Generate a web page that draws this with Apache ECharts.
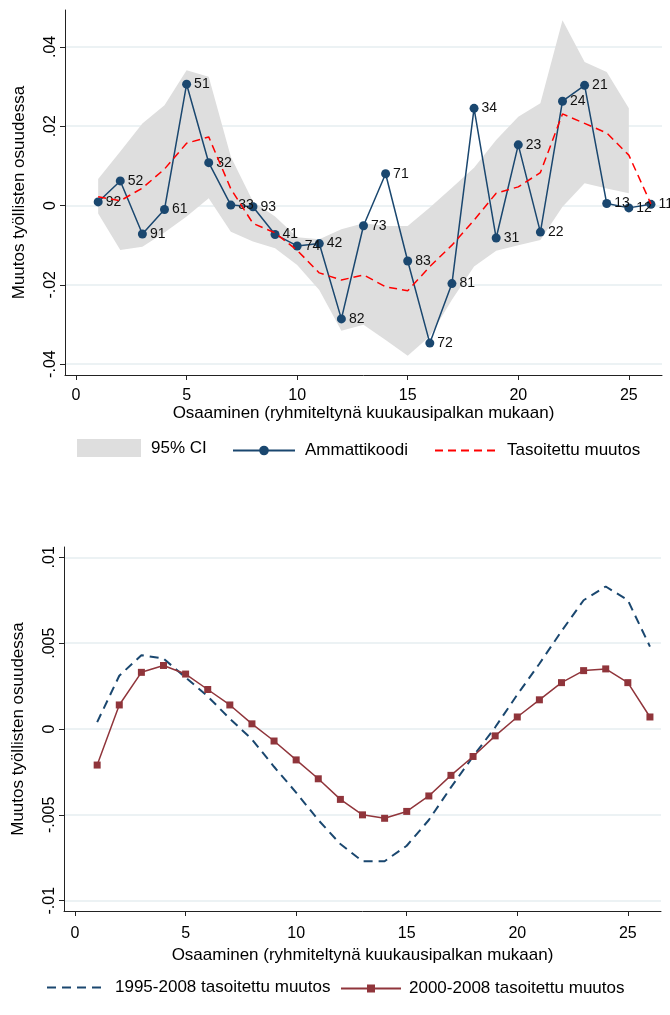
<!DOCTYPE html>
<html>
<head>
<meta charset="utf-8">
<script src="https://cdn.jsdelivr.net/npm/echarts@6/dist/echarts.min.js"></script>
<style>
html,body{margin:0;padding:0;background:#fff;}
#c{width:670px;height:1015px;}
</style>
</head>
<body>
<div id="c"></div>
<script>
// ---- data ----
const osaaminen = [1,2,3,4,5,6,7,8,9,10,11,12,13,14,15,16,17,18,19,20,21,22,23,24,25,26];
const ammattikoodit = ['92','52','91','61','51','32','33','93','41','74','42','82','73','71','83','72','81','34','31','23','22','24','21','13','12','11'];
const ammattiMuutos = [0.0009, 0.0062, -0.0072, -0.0010, 0.0306, 0.0108, 0.0001, -0.0003, -0.0073, -0.0102, -0.0096, -0.0286, -0.0051, 0.0080, -0.0140, -0.0347, -0.0197, 0.0245, -0.0082, 0.0153, -0.0067, 0.0263, 0.0303, 0.0005, -0.0006, 0.0003];
const tasoitettuMuutos = [0.0022, 0.0012, 0.0044, 0.0092, 0.0157, 0.0173, 0.0042, -0.0045, -0.0069, -0.0113, -0.0170, -0.0188, -0.0175, -0.0205, -0.0215, -0.0154, -0.0100, -0.0037, 0.0031, 0.0047, 0.0083, 0.0231, 0.0207, 0.0183, 0.0127, 0.0004];
const ciX = [1,2,3,4,5,6,7,8,9,10,11,12,13,14,15,16,17,18,19,20,21,22,23,24,25];
const ciLower = [-0.0020, -0.0112, -0.0104, -0.0068, -0.0028, 0.0018, -0.0066, -0.0091, -0.0108, -0.0150, -0.0213, -0.0316, -0.0301, -0.0339, -0.0379, -0.0330, -0.0238, -0.0154, -0.0114, -0.0100, -0.0087, -0.0003, 0.0056, 0.0043, 0.0031];
const ciUpper = [0.0067, 0.0136, 0.0207, 0.0253, 0.0341, 0.0325, 0.0123, 0.0010, -0.0028, -0.0080, -0.0085, -0.0060, -0.0045, -0.0052, -0.0052, -0.0005, 0.0045, 0.0095, 0.0165, 0.0224, 0.0258, 0.0467, 0.0362, 0.0337, 0.0245];
const muutos1995 = [0.0004, 0.0031, 0.0043, 0.0041, 0.0030, 0.0019, 0.0006, -0.0006, -0.0022, -0.0037, -0.0053, -0.0067, -0.0077, -0.0077, -0.0068, -0.0053, -0.0034, -0.0016, 0.0001, 0.0020, 0.0038, 0.0057, 0.0075, 0.0083, 0.0075, 0.0048];
const muutos2000 = [-0.0021, 0.0014, 0.0033, 0.0037, 0.0032, 0.0023, 0.0014, 0.0003, -0.0007, -0.0018, -0.0029, -0.0041, -0.0050, -0.0052, -0.0048, -0.0039, -0.0027, -0.0016, -0.0004, 0.0007, 0.0017, 0.0027, 0.0034, 0.0035, 0.0027, 0.0007];
const xTicks = [0, 5, 10, 15, 20, 25];
const xTickLabels = ['0', '5', '10', '15', '20', '25'];
const topYTicks = [-0.04, -0.02, 0, 0.02, 0.04];
const topYLabels = ['-.04', '-.02', '0', '.02', '.04'];
const botYTicks = [-0.01, -0.005, 0, 0.005, 0.01];
const botYLabels = ['-.01', '-.005', '0', '.005', '.01'];
const xTitle = 'Osaaminen (ryhmiteltynä kuukausipalkan mukaan)';
const yTitle = 'Muutos työllisten osuudessa';

// ---- helpers ----
const pairs = (xs, ys) => xs.map((x, i) => [x, ys[i]]);
const lookup = (ticks, labels) => v => {
  for (let i = 0; i < ticks.length; i++) if (Math.abs(ticks[i] - v) < 1e-9) return labels[i];
  return '';
};
const FONT = "'Liberation Sans', Arial, sans-serif";
const NAVY = '#1a476f';
const AXIS = '#222';
const GRIDC = '#e6eef1';
const BAND = '#dedede';

function xAxisDef(grid, margin, gap) {
  return {
    type: 'value', gridIndex: grid, min: -0.5, max: 26.5,
    axisLine: { show: true, onZero: false, lineStyle: { color: AXIS, width: 1 } },
    axisTick: { show: true, length: 5, customValues: xTicks, lineStyle: { color: AXIS } },
    axisLabel: { customValues: xTicks, formatter: lookup(xTicks, xTickLabels), fontSize: 16, color: '#000', margin: margin, fontFamily: FONT },
    splitLine: { show: false },
    name: xTitle, nameLocation: 'middle', nameGap: gap,
    nameTextStyle: { fontSize: 17, color: '#000', fontFamily: FONT }
  };
}
function yAxisDef(grid, min, max, ticks, labels) {
  return {
    type: 'value', gridIndex: grid, min: min, max: max,
    axisLine: { show: true, onZero: false, lineStyle: { color: AXIS, width: 1 } },
    axisTick: { show: true, length: 5, customValues: ticks, lineStyle: { color: AXIS } },
    axisLabel: { customValues: ticks, formatter: lookup(ticks, labels), fontSize: 16, color: '#000', margin: 6, rotate: 90, fontFamily: FONT },
    splitLine: { show: true, lineStyle: { color: GRIDC, width: 1.5 } },
    name: yTitle, nameLocation: 'middle', nameGap: 37,
    nameTextStyle: { fontSize: 17, color: '#000', fontFamily: FONT }
  };
}

const chart = echarts.init(document.getElementById('c'), null, { renderer: 'canvas' });
chart.setOption({
  backgroundColor: '#fff',
  animation: false,
  textStyle: { fontFamily: FONT },
  grid: [
    { left: 65, right: 8, top: 10, bottom: 640, outerBoundsMode: 'none', containLabel: false },
    { left: 64, right: 9, top: 547, bottom: 104, outerBoundsMode: 'none', containLabel: false }
  ],
  xAxis: [xAxisDef(0, 13, 30), xAxisDef(1, 15, 36)],
  yAxis: [
    yAxisDef(0, -0.04275, 0.04931, topYTicks, topYLabels),
    yAxisDef(1, -0.0106, 0.0106, botYTicks, botYLabels)
  ],
  legend: [
    { left: 77, top: 439, padding: 0, itemWidth: 64, itemHeight: 18, icon: 'rect',
      textStyle: { fontSize: 17, color: '#000', padding: [0, 0, 0, 5] },
      data: [{ name: '95% CI', itemStyle: { color: BAND } }] },
    { left: 232, top: 442, padding: 0, itemWidth: 62, itemHeight: 12,
      textStyle: { fontSize: 17, color: '#000', padding: [0, 0, 0, 5] },
      data: ['Ammattikoodi'] },
    { left: 434, top: 442, padding: 0, itemWidth: 64, itemHeight: 12,
      textStyle: { fontSize: 17, color: '#000', padding: [0, 0, 0, 3] },
      data: [{ name: 'Tasoitettu muutos', itemStyle: { color: 'rgba(0,0,0,0)', borderWidth: 0 } }] },
    { left: 46, top: 979, padding: 0, itemWidth: 54, itemHeight: 12,
      textStyle: { fontSize: 17, color: '#000', padding: [0, 0, 0, 9] },
      data: [{ name: '1995-2008 tasoitettu muutos', itemStyle: { color: 'rgba(0,0,0,0)', borderWidth: 0 } }] },
    { left: 340, top: 980, padding: 0, itemWidth: 60, itemHeight: 10,
      textStyle: { fontSize: 17, color: '#000', padding: [0, 0, 0, 3] },
      data: ['2000-2008 tasoitettu muutos'] }
  ],
  series: [
    { name: '95% CI', type: 'custom', xAxisIndex: 0, yAxisIndex: 0, z: 1, silent: true,
      data: ciX.map((x, i) => [x, ciLower[i], ciUpper[i]]),
      encode: { x: 0, y: [1, 2] },
      itemStyle: { color: BAND },
      renderItem: function (params, api) {
        if (params.dataIndex !== 0) return null;
        const pts = [];
        for (let i = 0; i < ciX.length; i++) pts.push(api.coord([ciX[i], ciUpper[i]]));
        for (let i = ciX.length - 1; i >= 0; i--) pts.push(api.coord([ciX[i], ciLower[i]]));
        return { type: 'polygon', shape: { points: pts }, style: { fill: BAND, stroke: null } };
      } },
    { name: 'Ammattikoodi', type: 'line', xAxisIndex: 0, yAxisIndex: 0,
      data: pairs(osaaminen, ammattiMuutos), symbol: 'circle', symbolSize: 9,
      itemStyle: { color: NAVY }, lineStyle: { color: NAVY, width: 1.5 }, z: 3,
      label: { show: true, position: 'right', distance: 3, fontSize: 14, color: '#111', fontFamily: FONT,
        formatter: p => ammattikoodit[p.dataIndex] } },
    { name: 'Tasoitettu muutos', type: 'line', xAxisIndex: 0, yAxisIndex: 0,
      data: pairs(osaaminen, tasoitettuMuutos), symbol: 'none',
      itemStyle: { color: '#ff0000' }, lineStyle: { color: '#ff0000', width: 1.5, type: [8, 5] }, z: 4 },
    { name: '1995-2008 tasoitettu muutos', type: 'line', xAxisIndex: 1, yAxisIndex: 1,
      data: pairs(osaaminen, muutos1995), symbol: 'none',
      itemStyle: { color: NAVY }, lineStyle: { color: NAVY, width: 2, type: [9, 6] }, z: 3 },
    { name: '2000-2008 tasoitettu muutos', type: 'line', xAxisIndex: 1, yAxisIndex: 1,
      data: pairs(osaaminen, muutos2000), symbol: 'rect', symbolSize: 7,
      itemStyle: { color: '#90353b' }, lineStyle: { color: '#90353b', width: 1.5 }, z: 4 }
  ]
});
</script>
</body>
</html>
